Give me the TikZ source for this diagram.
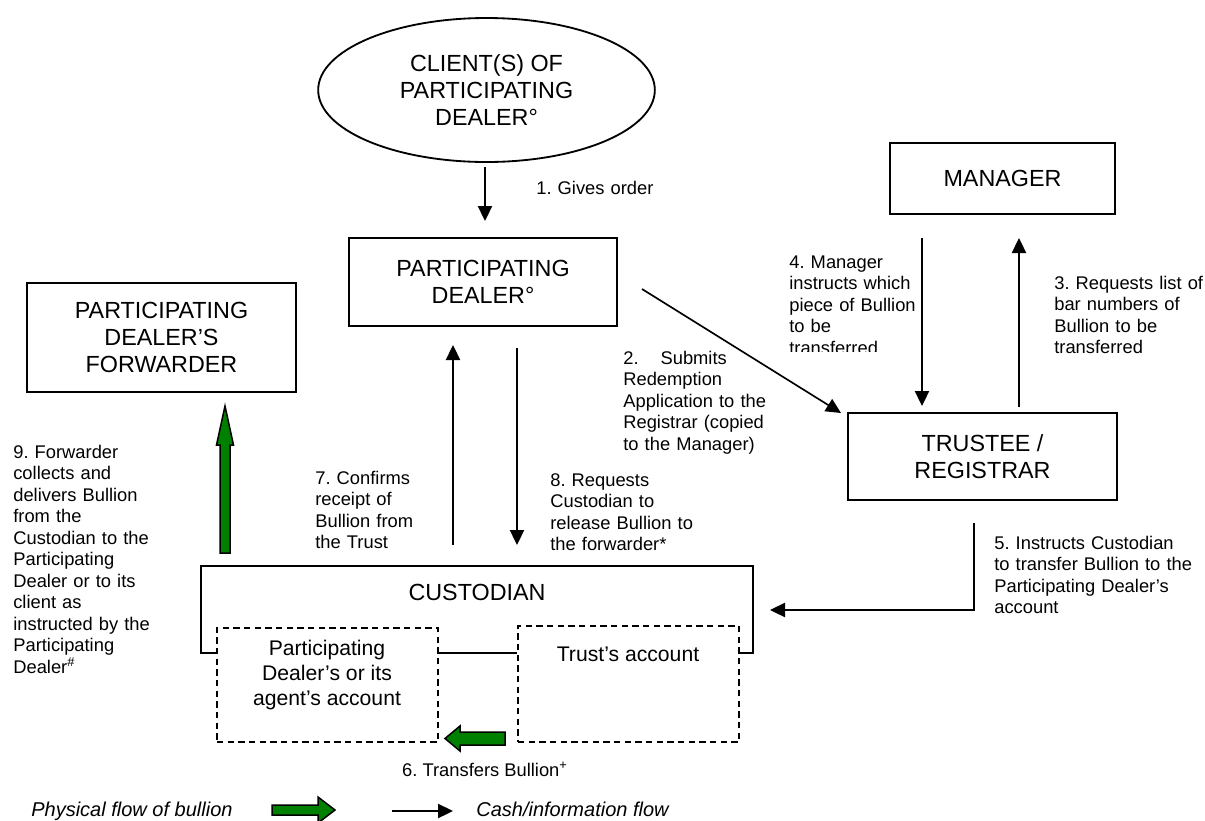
\documentclass[tikz,border=0pt]{standalone}
\usepackage{fontspec}
\setmainfont{Liberation Sans}
\usetikzlibrary{shapes.geometric,arrows.meta}
\definecolor{bgreen}{RGB}{0,128,0}
\frenchspacing
\tikzset{
  lbl/.style={anchor=base west, inner sep=0pt, text width=220pt, align=left, font=\fontsize{11}{12.9}\selectfont},
  bigbox/.style={draw, line width=1.1pt, inner sep=0pt, align=center, font=\fontsize{14}{16.1}\selectfont},
  conn/.style={line width=1pt, -{Triangle[length=9pt,width=8.5pt]}},
  acct/.style={draw, line width=1pt, dash pattern=on 3.8pt off 2.6pt, inner sep=0pt},
  accttext/.style={inner sep=0pt, align=center, font=\fontsize{12.7}{14.8}\selectfont},
  garrow/.style={fill=bgreen, draw=black, line width=0.9pt, line join=miter},
  legend/.style={anchor=base west, inner sep=0pt, font=\fontsize{12}{14}\selectfont\itshape}
}
\begin{document}
\begin{tikzpicture}[x=0.6pt,y=-0.6pt]
\useasboundingbox (0,0) rectangle (1205,820);

% nodes
\node[ellipse, draw, line width=1.1pt, minimum width=202pt, minimum height=86.4pt, inner sep=0pt, align=center, font=\fontsize{14}{16.1}\selectfont] (client) at (486.5,90) {CLIENT(S) OF\\PARTICIPATING\\DEALER°};
\node[bigbox, minimum width=160.8pt, minimum height=52.8pt] (pd) at (483,282) {PARTICIPATING\\DEALER°};
\node[bigbox, minimum width=161.4pt, minimum height=65.4pt] (fwd) at (161.5,337.5) {PARTICIPATING\\DEALER’S\\FORWARDER};
\node[bigbox, minimum width=135pt, minimum height=42.6pt] (mgr) at (1002.5,178.5) {MANAGER};
\node[bigbox, minimum width=161.4pt, minimum height=52.2pt] (trustee) at (982.5,456.5) {TRUSTEE /\\REGISTRAR};

% custodian
\node[inner sep=0pt, font=\fontsize{14}{16.1}\selectfont] (cust) at (477,592) {CUSTODIAN};
\node[acct, minimum width=132.6pt, minimum height=68.4pt] (pdacct) at (327.5,685) {};
\node[acct, minimum width=132.6pt, minimum height=69.6pt] (tracct) at (628.5,684) {};
\node[accttext] (pdacctt) at (327,675) {Participating\\Dealer’s or its\\agent’s account};
\node[accttext] (tracctt) at (628,654) {Trust’s account};
\draw[line width=1.1pt] (pdacct.west |- 0,653) -- (201,653) -- (201,566) -- (753,566) -- (753,653) -- (tracct.east |- 0,653);
\draw[line width=1pt] (pdacct.east |- 0,653) -- (tracct.west |- 0,653);

% connector coordinates
\coordinate (a1s) at (485,167); \coordinate (a1e) at (485,221);
\coordinate (a2s) at (642,289); \coordinate (a2e) at (841,413);
\coordinate (a3s) at (1019,407); \coordinate (a3e) at (1019,238);
\coordinate (a4s) at (922,238); \coordinate (a4e) at (922,406);
\coordinate (a5s) at (974,523); \coordinate (a5c) at (974,610); \coordinate (a5e) at (770,610);
\coordinate (a7s) at (453,545); \coordinate (a7e) at (453,345);
\coordinate (a8s) at (517,348); \coordinate (a8e) at (517,545);
\coordinate (ls) at (392,811); \coordinate (le) at (453,811);

\draw[conn] (a1s) -- (a1e);
\draw[conn] (a2s) -- (a2e);
\draw[conn] (a3s) -- (a3e);
\draw[conn] (a4s) -- (a4e);
\draw[conn] (a5s) -- (a5c) -- (a5e);
\draw[conn] (a7s) -- (a7e);
\draw[conn] (a8s) -- (a8e);
\draw[conn] (ls) -- (le);

% green arrows
\draw[garrow] (220,553) -- (220,445) -- (216.5,445) -- (225,406) -- (233.5,445) -- (230,445) -- (230,553) -- cycle;
\draw[garrow] (505,732) -- (460,732) -- (460,726) -- (445,738.5) -- (460,751) -- (460,745) -- (505,745) -- cycle;
\draw[garrow] (272,805) -- (318,805) -- (318,797) -- (335,810) -- (318,823) -- (318,815) -- (272,815) -- cycle;

% labels
\node[lbl] (l1) at (536,194) {1. Gives order};
\node[lbl] (l2) at (623,364) {2.\hspace{1.2em}Submits\\Redemption\\Application to the\\Registrar (copied\\to the Manager)};
\node[lbl] (l3) at (1054,289) {3. Requests list of\\bar numbers of\\Bullion to be\\transferred};
\begin{scope}
\clip (780,240) rectangle (918,351);
\node[lbl] (l4) at (789,268) {4. Manager\\instructs which\\piece of Bullion\\to be\\transferred};
\end{scope}
\node[lbl] (l5) at (994,549) {5. Instructs Custodian\\to transfer Bullion to the\\Participating Dealer’s\\account};
\node[inner sep=0pt, anchor=base, font=\fontsize{11}{12.9}\selectfont] (l6) at (485,776) {6. Transfers Bullion\textsuperscript{+}};
\node[lbl] (l7) at (315,484) {7. Confirms\\receipt of\\Bullion from\\the Trust};
\node[lbl] (l8) at (550,486) {8. Requests\\Custodian to\\release Bullion to\\the forwarder*};
\node[lbl] (l9) at (13,458) {9. Forwarder\\collects and\\delivers Bullion\\from the\\Custodian to the\\Participating\\Dealer or to its\\client as\\instructed by the\\Participating\\Dealer\textsuperscript{\#}};

% legend
\node[legend] (lg1) at (31,816) {Physical flow of bullion};
\node[legend] (lg2) at (476,816) {Cash/information flow};
\end{tikzpicture}
\end{document}
